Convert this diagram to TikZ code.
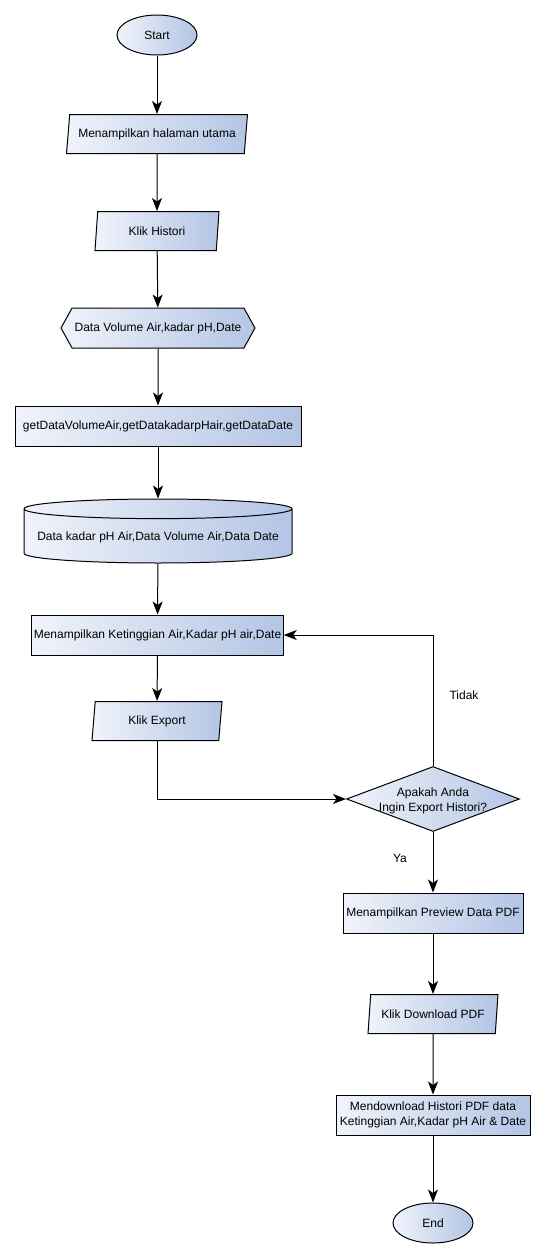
\documentclass[tikz,border=0pt]{standalone}
\usepackage{fontspec}
\setmainfont{Liberation Sans}
\usetikzlibrary{shapes.geometric,shapes.symbols,arrows.meta}
\definecolor{boxleft}{HTML}{F0F3FA}
\definecolor{boxright}{HTML}{B3C5E5}
\tikzset{
  box/.style={draw,line width=1pt,left color=boxleft,right color=boxright,
    font=\fontsize{12}{15}\selectfont,inner sep=2pt,align=center},
  terminal/.style={box,ellipse,minimum width=80pt,minimum height=40pt},
  io/.style={box,trapezium,trapezium left angle=78,trapezium right angle=102,
    trapezium stretches body,minimum height=39pt},
  prep/.style={box,signal,signal to=west and east,signal pointer angle=122,
    minimum width=194pt,minimum height=40pt},
  process/.style={box,rectangle,minimum height=40pt},
  store/.style={box,cylinder,shape border rotate=90,aspect=0.08,
    minimum width=268pt,minimum height=64pt},
  decision/.style={box,diamond,minimum width=173pt,minimum height=65pt},
  txt/.style={font=\fontsize{12}{15}\selectfont,align=center},
  arr/.style={line width=1pt,-{Stealth[length=13pt,width=10pt,inset=3.5pt]}}
}
\begin{document}
\begin{tikzpicture}[x=1pt,y=-1pt]
    \useasboundingbox (0,0) rectangle (545,1258);

    % left column
    \node[terminal] (start) at (157,35) {Start};
    \node[io,minimum width=181pt] (home) at (157,134) {Menampilkan halaman utama};
    \node[io,minimum width=124pt] (histori) at (157,231) {Klik Histori};
    \node[prep] (data) at (158,328) {Data Volume Air,kadar pH,Date};
    \node[process,minimum width=286pt] (getdata) at (158,426) {getDataVolumeAir,getDatakadarpHair,getDataDate};
    \node[store] (db) at (158,537) {Data kadar pH Air,Data Volume Air,Data Date};
    \node[process,minimum width=251pt] (show) at (157.5,635) {Menampilkan Ketinggian Air,Kadar pH air,Date};
    \node[io,minimum width=130pt] (export) at (157,721) {Klik Export};

    % right column
    \node[decision] (ask) at (433,799) {};
    \node[txt] (asktext) at (433,801) {Apakah Anda\\Ingin Export Histori?};
    \node[process,minimum width=180pt] (preview) at (433,913) {Menampilkan Preview Data PDF};
    \node[io,minimum width=130pt] (download) at (433,1014) {Klik Download PDF};
    \node[process,minimum width=194pt] (save) at (433,1115) {Mendownload Histori PDF data\\Ketinggian Air,Kadar pH Air \& Date};
    \node[terminal] (end) at (433,1223) {End};

    \node[txt] (tidak) at (464,695) {Tidak};
    \node[txt] (ya) at (400,858) {Ya};

    \draw[arr] (start) -- (home);
    \draw[arr] (home) -- (histori);
    \draw[arr] (histori) -- (data);
    \draw[arr] (data) -- (getdata);
    \draw[arr] (getdata) -- (db);
    \draw[arr] (db) -- (show);
    \draw[arr] (show) -- (export);
    \draw[arr] (export.south) |- (ask.west);
    \draw[arr] (ask.north) |- (show.east);
    \draw[arr] (ask.south) -- (preview);
    \draw[arr] (preview) -- (download);
    \draw[arr] (download) -- (save);
    \draw[arr] (save) -- (end);

\end{tikzpicture}
\end{document}
